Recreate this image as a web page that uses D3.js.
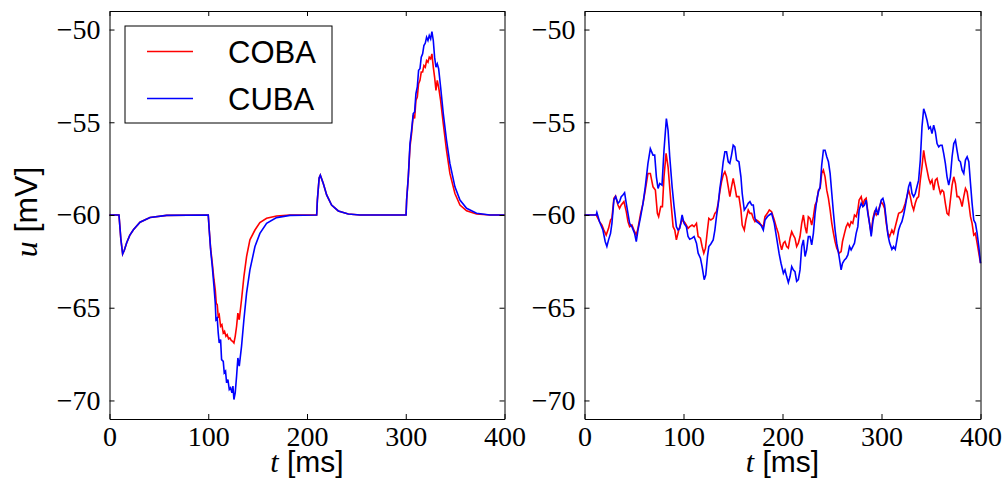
<!DOCTYPE html>
<html>
<head>
<meta charset="utf-8">
<script src="https://cdn.jsdelivr.net/npm/d3@7"></script>
<style>
  body { margin: 0; background: #fff; }
  svg { display: block; }
  .tick text { font-family: "Liberation Serif", serif; font-size: 28px; fill: #000; }
  .domain, .tick line { stroke: #000; }
</style>
</head>
<body>
<svg id="chart" width="1005" height="480"></svg>
<script>
// tick values
const xTicks = [0, 100, 200, 300, 400];
const yTicks = [-70, -65, -60, -55, -50];
const seriesNames = ["COBA", "CUBA"];

// left panel: step inputs  [t ms, u mV]
const cobaLeft = [[0,-60],[9.6,-60],[11.5,-61.3],[13.3,-62.1],[15.0,-61.9],[17.4,-61.5],[20.5,-61.1],[24.2,-60.8],[30.9,-60.39],[41.0,-60.13],[57.9,-60.02],[100.0,-60],
  [101.0,-60.81],[102.4,-61.79],[104.1,-62.6],[105.8,-63.49],[107.1,-64.03],[108.1,-64.75],[109.1,-64.84],[110.1,-65.47],[111.1,-65.38],[112.5,-66.0],[113.8,-65.91],
  [115.2,-66.36],[116.5,-66.27],[117.9,-66.54],[119.2,-66.45],[120.6,-66.68],[121.9,-66.63],[123.3,-66.76],[124.6,-66.81],[126.0,-66.9],[127.3,-66.54],[128.7,-66.0],
  [130.0,-65.29],[131.4,-65.65],[133.7,-64.57],[136.1,-63.32],[138.8,-62.24],[142.2,-61.34],[147.3,-60.81],[152.3,-60.41],[159.1,-60.18],[169.2,-60.05],[182.7,-60],
  [209.8,-60],[210.5,-59.2],[212.3,-58.0],[213.5,-57.85],[216.5,-58.3],[219.9,-58.92],[224.9,-59.46],[231.7,-59.78],[241.8,-59.95],[253.6,-60],[300.3,-60],
  [300.9,-59.19],[302.6,-57.94],[304.3,-56.33],[305.9,-55.61],[307.6,-54.62],[309.0,-54.8],[310.3,-53.82],[311.7,-53.64],[313.0,-52.92],[314.4,-52.74],[315.7,-52.29],
  [317.1,-52.29],[318.4,-51.94],[319.8,-52.03],[321.1,-51.67],[322.5,-51.76],[323.8,-51.49],[325.2,-51.58],[326.5,-51.31],[327.9,-52.03],[329.2,-52.56],[330.6,-53.28],
  [331.9,-52.74],[333.3,-53.1],[335.3,-53.82],[338.0,-55.07],[341.3,-56.51],[344.7,-57.76],[349.8,-58.84],[354.9,-59.46],[361.6,-59.77],[371.7,-59.95],[385.2,-60],[400,-60]];

const cubaLeft = [[0,-60],[9.6,-60],[11.5,-61.3],[13.3,-62.1],[15.0,-61.9],[17.4,-61.5],[20.5,-61.1],[24.2,-60.8],[30.9,-60.39],[41.0,-60.13],[57.9,-60.02],[100.0,-60],
  [101.0,-60.81],[102.4,-61.88],[104.1,-62.78],[105.8,-63.85],[107.1,-64.75],[107.8,-65.65],[109.1,-65.56],[110.1,-66.36],[111.1,-66.9],[112.5,-66.72],[113.5,-67.8],
  [115.2,-67.89],[116.2,-68.51],[117.5,-68.42],[118.6,-69.05],[119.9,-68.87],[121.3,-69.41],[122.6,-69.32],[124.0,-69.59],[125.0,-69.23],[126.0,-69.95],[127.3,-69.59],
  [128.7,-68.69],[130.0,-67.71],[131.4,-68.15],[133.7,-67.08],[136.1,-65.65],[138.8,-64.21],[142.2,-62.96],[147.3,-61.7],[152.3,-60.99],[159.1,-60.45],[169.2,-60.14],
  [182.7,-60.02],[209.8,-60],[210.5,-59.2],[212.3,-58.0],[213.5,-57.85],[216.5,-58.3],[219.9,-58.92],[224.9,-59.46],[231.7,-59.78],[241.8,-59.95],[253.6,-60],[300.3,-60],
  [300.9,-59.19],[302.6,-57.94],[304.3,-56.15],[305.9,-55.43],[307.6,-54.53],[309.0,-54.44],[310.3,-53.46],[311.7,-53.1],[313.0,-52.2],[314.4,-52.11],[315.7,-51.49],
  [317.1,-51.31],[318.4,-50.86],[319.8,-50.73],[321.1,-50.41],[322.5,-50.59],[323.8,-50.32],[325.2,-50.5],[326.5,-50.11],[327.9,-50.59],[329.2,-51.49],[330.6,-52.03],
  [331.9,-51.85],[333.3,-52.11],[335.3,-53.1],[338.0,-54.53],[341.3,-55.97],[344.7,-57.22],[349.8,-58.48],[354.9,-59.19],[361.6,-59.64],[371.7,-59.91],[385.2,-60],[400,-60]];

// right panel: noisy input
const cobaRight = [[0,-60],[11.8,-60],[15.2,-60.36],[17.6,-60.54],[19.6,-60.81],[21.9,-61.08],[24.3,-60.72],[26.3,-60.27],[27.7,-60.18],[29.7,-59.1],[31.4,-58.98],
  [33.8,-59.46],[35.4,-59.64],[37.1,-59.46],[39.8,-59.28],[42.2,-59.82],[43.9,-60.36],[45.6,-60.63],[47.9,-60.54],[50.6,-60.9],[52.3,-61.08],[54.0,-60.72],[56.7,-59.91],
  [59.1,-59.37],[61.4,-58.66],[64.1,-57.76],[66.5,-57.76],[69.2,-58.48],[71.6,-58.66],[73.6,-59.91],[74.9,-60.09],[77.0,-59.55],[78.7,-59.55],[80.3,-57.94],[82.4,-56.68],
  [84.4,-57.4],[87.1,-59.19],[89.5,-60.63],[91.2,-60.81],[92.8,-61.34],[95.2,-60.81],[98.6,-60.27],[101.3,-60.4],[102.9,-60.54],[104.6,-60.72],[106.3,-60.63],[108.7,-60.54],
  [110.7,-60.63],[113.1,-60.45],[114.8,-61.16],[117.1,-61.25],[118.8,-61.7],[120.5,-62.06],[122.2,-61.79],[124.2,-60.81],[125.6,-60.18],[127.6,-60.27],[130.0,-60.18],
  [131.7,-59.91],[133.3,-59.82],[135.0,-59.37],[136.7,-58.75],[138.4,-58.21],[140.1,-57.85],[141.8,-57.67],[143.5,-57.94],[145.2,-58.48],[146.8,-59.01],[148.5,-58.48],
  [150.2,-58.03],[151.9,-58.48],[153.6,-59.01],[156.0,-59.01],[158.0,-59.73],[159.3,-60.54],[161.4,-60.81],[163.0,-60.27],[165.4,-59.73],[167.1,-59.91],[168.8,-59.91],
  [170.5,-60.18],[172.2,-60.36],[173.9,-60.27],[176.2,-60.36],[178.2,-60.54],[180.6,-60.63],[182.3,-60.09],[184.7,-59.91],[186.7,-59.73],[189.0,-59.82],[191.7,-60.27],
  [194.1,-60.72],[195.8,-60.99],[197.5,-61.52],[199.2,-61.88],[200.9,-61.52],[202.5,-61.43],[204.2,-61.7],[205.9,-61.79],[207.6,-61.25],[209.3,-60.9],[210.9,-61.08],
  [212.6,-61.25],[214.3,-61.7],[216.0,-61.52],[217.7,-61.16],[219.4,-60.45],[221.1,-60.0],[222.8,-60.63],[224.4,-60.99],[226.1,-60.09],[227.8,-60.18],[229.5,-60.54],
  [231.2,-60.09],[232.9,-59.46],[234.6,-59.28],[236.3,-58.66],[238.0,-58.57],[239.6,-57.76],[241.3,-57.58],[243.0,-57.94],[244.7,-58.66],[246.4,-59.1],[248.1,-59.73],
  [249.8,-60.45],[251.5,-60.99],[253.1,-61.43],[254.8,-61.79],[257.2,-62.06],[259.2,-61.97],[260.6,-61.43],[262.6,-60.99],[264.3,-60.63],[266.0,-60.45],[267.7,-60.63],
  [269.3,-60.36],[271.0,-60.45],[272.7,-60.0],[274.4,-60.09],[276.1,-59.73],[277.4,-59.19],[279.5,-59.01],[281.2,-59.46],[282.8,-59.19],[284.5,-59.1],[286.2,-59.82],
  [287.9,-60.45],[289.6,-60.99],[291.3,-60.18],[293.0,-59.82],[294.7,-60.0],[296.4,-59.82],[298.0,-59.55],[299.7,-59.3],[301.4,-59.42],[303.1,-59.64],[304.8,-60.45],
  [306.5,-60.99],[308.2,-61.16],[310.5,-60.81],[312.2,-60.99],[313.9,-60.63],[315.6,-60.27],[317.3,-59.91],[319.0,-59.87],[320.6,-59.82],[322.3,-59.64],[324.0,-59.37],
  [325.7,-59.01],[327.4,-58.66],[329.1,-59.01],[330.8,-59.46],[332.5,-59.73],[334.1,-59.37],[335.8,-59.1],[337.5,-59.01],[339.2,-58.12],[340.9,-57.4],[342.6,-56.51],
  [344.3,-57.13],[346.0,-57.58],[347.7,-58.03],[349.3,-58.3],[351.0,-58.12],[352.7,-58.66],[354.4,-58.12],[356.1,-58.03],[357.8,-58.48],[359.5,-58.84],[361.2,-58.66],
  [362.8,-58.75],[364.5,-59.37],[366.2,-59.91],[367.9,-60.0],[369.6,-59.19],[371.3,-58.39],[373.0,-57.94],[374.7,-58.3],[376.3,-59.01],[378.0,-59.01],[379.7,-59.19],
  [381.4,-59.55],[383.1,-59.01],[384.8,-58.57],[386.5,-58.75],[388.2,-59.37],[389.9,-60.09],[391.5,-60.45],[393.2,-61.08],[394.9,-60.99],[396.6,-61.52],[398.3,-62.06],[400,-62.6]];

const cubaRight = [[0,-60],[11.8,-60],[12.5,-59.86],[15.2,-60.36],[18.6,-60.81],[20.9,-61.43],[22.6,-61.7],[24.3,-61.34],[26.3,-60.99],[27.7,-60.45],[29.7,-59.19],
  [31.4,-59.01],[33.8,-59.37],[35.4,-59.28],[37.1,-59.01],[38.8,-58.92],[40.5,-58.8],[42.2,-59.37],[43.9,-59.91],[45.6,-60.45],[47.9,-60.63],[50.6,-60.99],[52.3,-61.43],
  [54.0,-60.81],[56.7,-60.09],[59.1,-59.37],[61.4,-58.48],[64.1,-57.22],[66.5,-56.42],[69.2,-56.77],[70.9,-56.77],[72.6,-57.94],[74.3,-58.57],[76.0,-58.3],[78.3,-58.39],
  [80.3,-56.51],[82.7,-54.8],[84.4,-55.43],[86.1,-56.86],[88.5,-58.48],[90.5,-59.55],[92.8,-60.63],[94.5,-60.81],[96.2,-60.72],[98.6,-60.0],[100.6,-60.45],[102.9,-60.63],
  [104.6,-61.16],[106.3,-61.31],[108.7,-61.25],[110.7,-61.16],[113.1,-61.52],[114.8,-62.06],[117.1,-62.33],[118.8,-62.78],[120.9,-63.49],[122.5,-63.23],[124.2,-62.24],
  [125.6,-61.7],[127.6,-61.56],[130.0,-61.34],[131.7,-60.81],[133.3,-60.09],[135.0,-59.46],[136.7,-58.57],[138.4,-57.94],[140.1,-57.13],[141.8,-56.59],[143.5,-56.59],
  [145.2,-57.13],[146.8,-57.22],[148.5,-56.77],[150.2,-56.24],[151.9,-56.33],[153.6,-57.04],[156.0,-57.13],[158.0,-57.94],[159.3,-58.84],[161.4,-59.73],[163.7,-59.55],
  [165.4,-59.37],[167.1,-59.28],[168.8,-59.46],[170.5,-59.46],[172.2,-60.18],[173.9,-60.36],[176.2,-60.45],[178.2,-60.54],[180.6,-60.81],[182.3,-60.27],[184.7,-60.09],
  [186.7,-60.0],[189.0,-59.91],[191.7,-60.45],[194.1,-61.25],[196.5,-62.06],[198.5,-62.6],[200.9,-63.14],[202.5,-62.96],[204.2,-63.32],[205.9,-63.64],[207.6,-63.32],
  [209.3,-62.78],[210.9,-62.96],[212.6,-63.05],[214.3,-63.58],[216.0,-63.49],[217.7,-62.96],[219.4,-61.7],[221.1,-61.34],[222.8,-62.24],[224.4,-61.88],[226.1,-61.16],
  [227.8,-61.16],[229.5,-61.61],[231.2,-60.99],[232.9,-59.91],[234.6,-59.19],[236.3,-58.75],[238.0,-58.48],[239.6,-57.31],[241.3,-56.51],[243.0,-56.51],[244.7,-56.86],
  [246.4,-57.13],[248.1,-57.76],[249.8,-58.84],[251.5,-59.91],[253.1,-60.81],[254.8,-61.52],[257.2,-62.24],[259.2,-62.96],[260.6,-62.6],[262.6,-62.42],[264.3,-62.33],
  [266.0,-62.15],[267.7,-61.7],[269.3,-61.88],[271.0,-61.7],[272.7,-61.52],[274.4,-60.99],[276.1,-60.63],[277.4,-59.73],[279.5,-59.37],[281.2,-59.55],[282.8,-59.46],
  [284.5,-59.19],[286.2,-59.91],[287.9,-60.45],[289.6,-61.16],[291.3,-60.36],[293.0,-59.91],[294.7,-59.64],[296.4,-60.0],[298.0,-59.6],[299.7,-59.2],[301.4,-59.1],
  [303.1,-59.46],[304.8,-60.27],[306.5,-61.08],[308.2,-61.5],[310.5,-61.85],[312.2,-61.7],[313.9,-61.85],[315.6,-61.34],[317.3,-60.81],[319.0,-60.54],[320.6,-60.36],
  [322.3,-60.0],[324.0,-59.55],[325.7,-59.01],[327.4,-58.48],[329.1,-58.21],[330.8,-58.84],[332.5,-59.01],[334.1,-58.84],[335.8,-58.48],[337.5,-58.12],[339.2,-57.04],
  [340.9,-55.25],[342.6,-54.27],[344.3,-54.54],[346.0,-54.89],[347.7,-55.34],[349.3,-55.25],[351.0,-55.61],[352.7,-55.16],[354.4,-55.52],[356.1,-56.15],[357.8,-56.33],
  [359.5,-56.24],[361.2,-56.24],[362.8,-56.68],[364.5,-57.22],[366.2,-57.94],[367.9,-58.39],[369.6,-57.94],[371.3,-56.86],[373.0,-56.15],[374.7,-55.97],[376.3,-56.51],
  [378.0,-57.04],[379.7,-57.13],[381.4,-57.58],[383.1,-57.76],[384.8,-57.04],[386.5,-56.86],[388.2,-57.13],[389.9,-58.3],[391.5,-59.37],[393.2,-60.27],[394.9,-60.45],
  [396.6,-60.99],[398.3,-61.7],[400,-62.6]];

const colors = {COBA: "#ff0000", CUBA: "#0000ff"};

const svg = d3.select("#chart");
const plotTop = 11, plotBottom = 419;

const y = d3.scaleLinear().domain([-71, -49]).range([plotBottom, plotTop]);

function panel(left, right, coba, cuba) {
  const x = d3.scaleLinear().domain([0, 400]).range([left, right]);
  const g = svg.append("g");

  // lines first, frame on top
  const line = d3.line().x(d => x(d[0])).y(d => y(d[1]));
  g.append("path").datum(coba).attr("d", line)
    .attr("fill", "none").attr("stroke", colors.COBA).attr("stroke-width", 1.6);
  g.append("path").datum(cuba).attr("d", line)
    .attr("fill", "none").attr("stroke", colors.CUBA).attr("stroke-width", 1.6);

  g.append("g").attr("transform", `translate(0,${plotBottom})`)
    .call(d3.axisBottom(x).tickValues(xTicks).tickSizeInner(-5).tickSizeOuter(0).tickPadding(7));
  g.append("g").attr("transform", `translate(0,${plotTop})`)
    .call(d3.axisTop(x).tickValues(xTicks).tickSizeInner(-5).tickSizeOuter(0).tickFormat(""));
  g.append("g").attr("transform", `translate(${left},0)`)
    .call(d3.axisLeft(y).tickValues(yTicks).tickSizeInner(-5).tickSizeOuter(0).tickPadding(9));
  g.append("g").attr("transform", `translate(${right},0)`)
    .call(d3.axisRight(y).tickValues(yTicks).tickSizeInner(-5).tickSizeOuter(0).tickFormat(""));

  // x label
  const xl = g.append("text").attr("x", (left + right) / 2).attr("y", 472)
    .attr("text-anchor", "middle").style("font-size", "30px");
  xl.append("tspan").text("t").style("font-family", "Liberation Serif, serif").style("font-style", "italic");
  xl.append("tspan").text(" [ms]").style("font-family", "Liberation Sans, sans-serif");
  return x;
}

panel(109.5, 504.5, cobaLeft, cubaLeft);
panel(584.5, 980.5, cobaRight, cubaRight);

// y label
const yl = svg.append("text").attr("transform", "translate(37,212) rotate(-90)")
  .attr("text-anchor", "middle").style("font-size", "32px");
yl.append("tspan").text("u").style("font-family", "Liberation Serif, serif").style("font-style", "italic");
yl.append("tspan").text(" [mV]").style("font-family", "Liberation Sans, sans-serif");

// legend
const lg = svg.append("g");
lg.append("rect").attr("x", 125).attr("y", 26).attr("width", 207).attr("height", 97)
  .attr("fill", "#fff").attr("stroke", "#000").attr("stroke-width", 1);
seriesNames.forEach((name, i) => {
  const ly = 51.5 + i * 47;
  lg.append("line").attr("x1", 147).attr("x2", 193).attr("y1", ly).attr("y2", ly)
    .attr("stroke", colors[name]).attr("stroke-width", 1.6);
  lg.append("text").attr("x", 228).attr("y", ly + 11.5).text(name)
    .style("font-family", "Liberation Sans, sans-serif").style("font-size", "31px");
});
</script>
</body>
</html>
